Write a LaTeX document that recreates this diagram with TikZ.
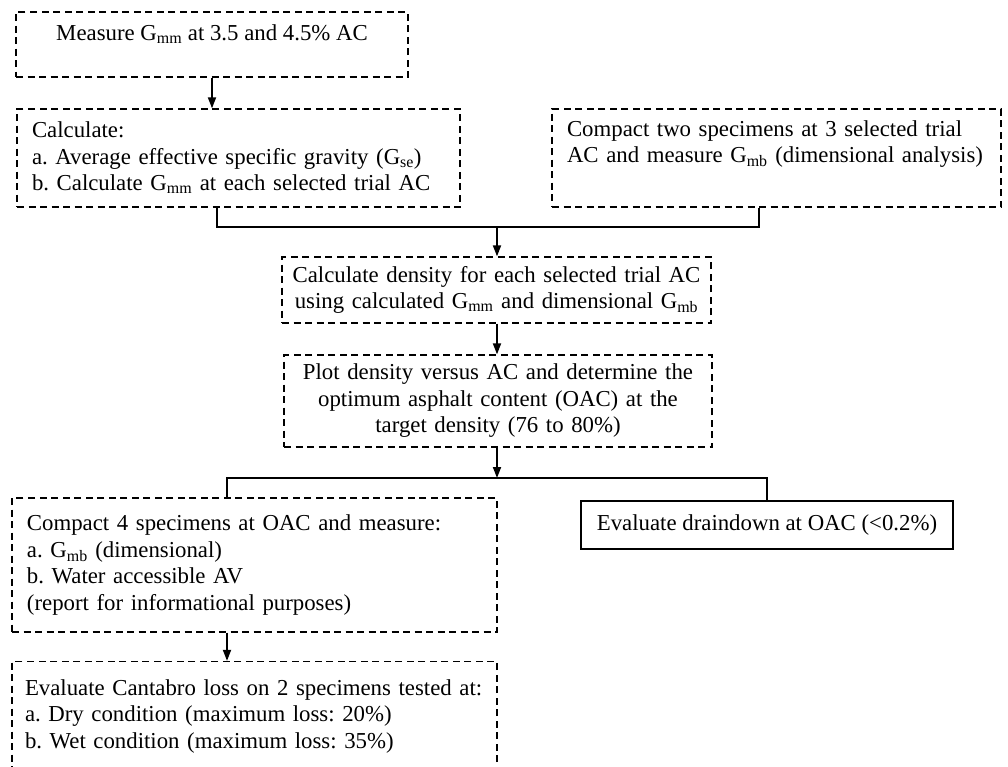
\documentclass[tikz,border=0pt]{standalone}
\usepackage{fontspec}
\setmainfont{Liberation Serif}
\usetikzlibrary{arrows.meta}
\newcommand{\Gs}[1]{G\textsubscript{#1}}
\tikzset{
  dbox/.style={draw, dash pattern=on 7pt off 4.5pt, line width=1.3pt, inner ysep=0pt,
    font=\fontsize{22.8}{26.5}\selectfont\frenchspacing},
  lbox/.style={dbox, align=left, inner xsep=15pt},
  cbox/.style={dbox, align=center, inner xsep=4pt},
  sbox/.style={draw, line width=1.6pt, inner ysep=0pt, font=\fontsize{22.8}{26.5}\selectfont\frenchspacing},
  conn/.style={line width=1.8pt},
  arr/.style={conn, -{Triangle[length=11pt,width=8pt]}},
}

\begin{document}
\begin{tikzpicture}[x=1pt,y=-1pt]
  \useasboundingbox (0,0) rectangle (1008,766);

  \node[dbox, minimum width=392pt, minimum height=65pt, text depth=24pt] (b1) at (212,44.5)
    {Measure \Gs{mm} at 3.5 and 4.5\% AC};
  \node[lbox, text width=413pt, minimum height=98pt] (b2) at (238.5,158)
    {Calculate:\\a. Average effective specific gravity (\Gs{se})\\b. Calculate \Gs{mm} at each selected trial AC};
  \node[lbox, text width=419pt, minimum height=98pt, text depth=59pt] (b3) at (776.5,158)
    {Compact two specimens at 3 selected trial\\AC and measure \Gs{mb} (dimensional analysis)};
  \node[cbox, text width=421pt, minimum height=66pt] (b4) at (496.5,290)
    {Calculate density for each selected trial AC\\using calculated \Gs{mm} and dimensional \Gs{mb}};
  \node[cbox, text width=420pt, minimum height=92pt] (b5) at (498,401)
    {Plot density versus AC and determine the\\optimum asphalt content (OAC) at the\\target density (76 to 80\%)};
  \node[lbox, text width=455pt, minimum height=134pt] (b6) at (254.5,565)
    {Compact 4 specimens at OAC and measure:\\a. \Gs{mb} (dimensional)\\b. Water accessible AV\\(report for informational purposes)};
  \node[sbox, minimum width=372pt, minimum height=48pt] (b7) at (767,525)
    {Evaluate draindown at OAC (<0.2\%)};
  \node[lbox, inner xsep=13pt, text width=459pt, minimum height=110pt] (b8) at (254.5,716.5)
    {Evaluate Cantabro loss on 2 specimens tested at:\\a. Dry condition (maximum loss: 20\%)\\b. Wet condition (maximum loss: 35\%)};

  \coordinate (j1) at (497,227);
  \coordinate (j2) at (497,478);

  \draw[arr] (b1.south) -- (b1.south |- b2.north);
  \draw[conn] ([xshift=-21.5pt]b2.south) |- (j1) -| ([xshift=-17.5pt]b3.south);
  \draw[arr] (j1) -- (j1 |- b4.north);
  \draw[arr] (j1 |- b4.south) -- (j1 |- b5.north);
  \draw[arr] (j1 |- b5.south) -- (j2);
  \draw[conn] ([xshift=-27.5pt]b6.north) |- (j2) -| (b7.north);
  \draw[arr] ([xshift=-27.5pt]b6.south) -- ([xshift=-27.5pt]b8.north);
\end{tikzpicture}
\end{document}
